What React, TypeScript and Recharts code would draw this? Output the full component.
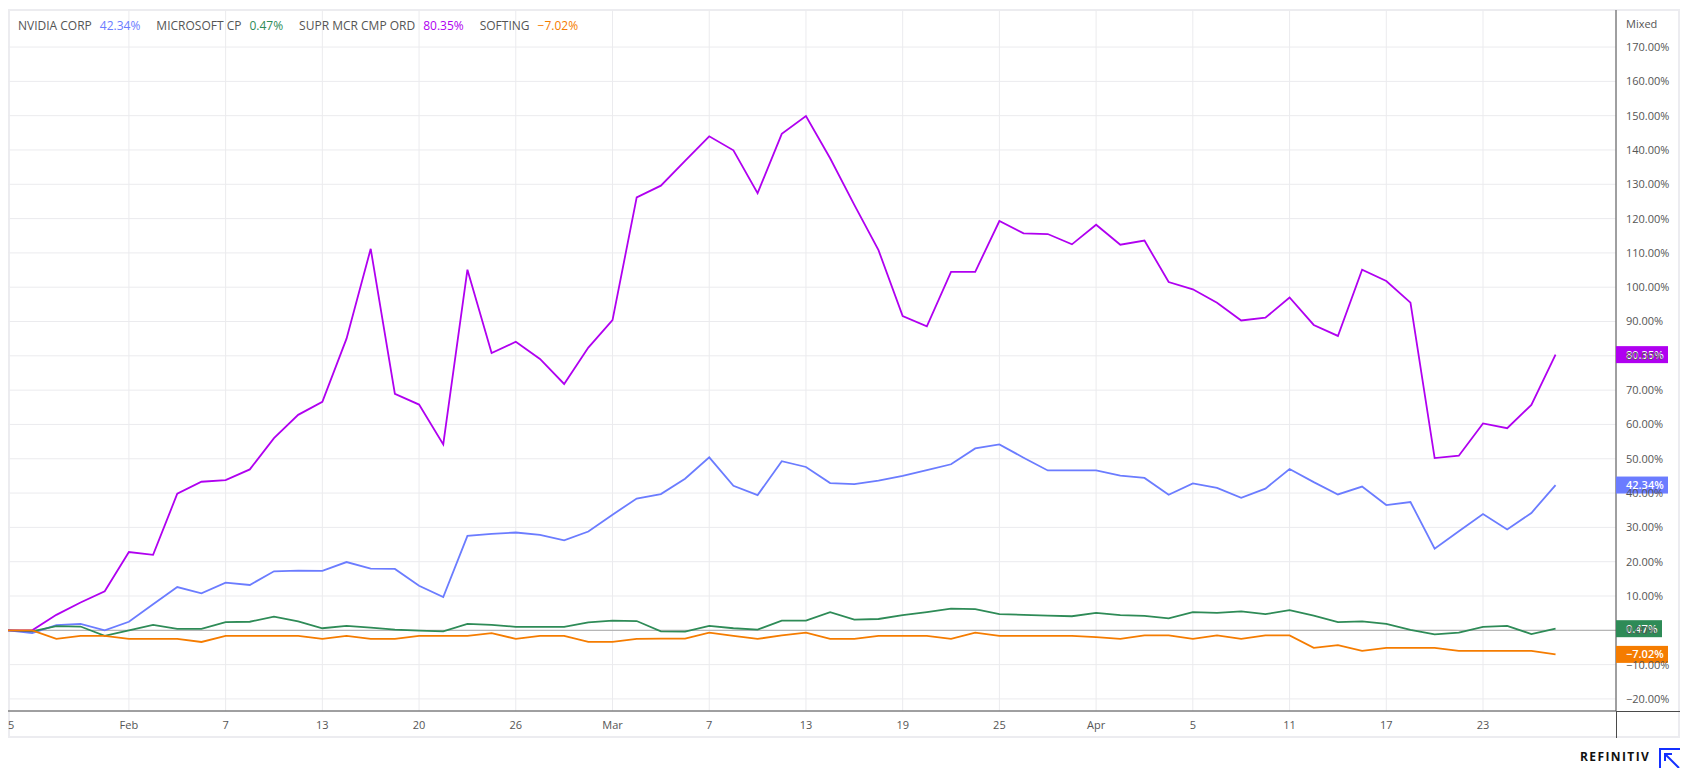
import React from "react";
import { LineChart, Line, XAxis, YAxis, CartesianGrid, ReferenceLine, ReferenceDot } from "recharts";

const seriesNames = ["NVIDIA CORP", "MICROSOFT CP", "SUPR MCR CMP ORD", "SOFTING"];
const seriesKeys = ["nvda", "msft", "smci", "soft"];
const seriesColors = ["#6b7cff", "#2e8b57", "#b000f0", "#f57c00"];

const nvidia = [
  0, -0.8, 1.5, 1.9, 0, 2.5, 7.6, 12.6, 10.8, 13.9, 13.2, 17.2, 17.4, 17.3, 19.9, 18.0, 17.9, 13.0, 9.7, 27.5,
  28.1, 28.5, 27.8, 26.2, 28.8, 33.7, 38.4, 39.7, 44.2, 50.4, 42.1, 39.4, 49.3, 47.6, 42.9, 42.6, 43.6, 45.0, 46.7, 48.4,
  53.0, 54.2, 50.3, 46.6, 46.6, 46.6, 45.1, 44.4, 39.5, 42.8, 41.5, 38.6, 41.3, 47.0, 43.2, 39.6, 41.9, 36.5, 37.4, 23.8,
  28.9, 33.9, 29.4, 34.2, 42.34,
];
const microsoft = [
  0, -0.3, 1.2, 1.1, -1.6, 0, 1.6, 0.4, 0.4, 2.4, 2.5, 4.0, 2.6, 0.6, 1.3, 0.8, 0.2, -0.1, -0.3, 1.9,
  1.6, 1.0, 1.0, 1.0, 2.3, 2.8, 2.7, -0.3, -0.4, 1.3, 0.6, 0.2, 2.8, 2.8, 5.3, 3.1, 3.3, 4.4, 5.3, 6.3,
  6.2, 4.7, 4.5, 4.3, 4.1, 5.1, 4.4, 4.2, 3.5, 5.3, 5.1, 5.5, 4.7, 5.9, 4.3, 2.4, 2.6, 1.9, 0.1, -1.2,
  -0.7, 1.0, 1.3, -1.1, 0.47,
];
const superMicro = [
  0, 0, 4.5, 8.1, 11.4, 22.8, 22.0, 39.8, 43.3, 43.8, 46.9, 56.0, 62.8, 66.6, 85.0, 111.2, 68.9, 65.8, 54.2, 105.1,
  80.8, 84.1, 79.1, 71.8, 82.4, 90.4, 126.2, 129.6, 136.8, 144.0, 139.9, 127.4, 144.7, 149.9, 137.6, 124.0, 110.8, 91.6, 88.6, 104.5,
  104.5, 119.3, 115.7, 115.5, 112.5, 118.2, 112.4, 113.6, 101.5, 99.4, 95.5, 90.3, 91.1, 97.0, 89.0, 85.8, 105.1, 101.8, 95.5, 50.2,
  50.9, 60.3, 58.9, 65.7, 80.35,
];
const softing = [
  0, 0, -2.5, -1.6, -1.6, -2.5, -2.5, -2.5, -3.4, -1.6, -1.6, -1.6, -1.6, -2.5, -1.6, -2.5, -2.5, -1.6, -1.6, -1.6,
  -0.8, -2.5, -1.6, -1.6, -3.4, -3.4, -2.5, -2.4, -2.4, -0.7, -1.6, -2.5, -1.5, -0.7, -2.5, -2.5, -1.6, -1.6, -1.6, -2.5,
  -0.7, -1.6, -1.6, -1.6, -1.6, -2.0, -2.5, -1.5, -1.5, -2.5, -1.5, -2.5, -1.5, -1.5, -5.1, -4.3, -6.0, -5.1, -5.1, -5.1,
  -6.0, -6.0, -6.0, -6.0, -7.02,
];

const tickIndex = [0, 5, 9, 13, 17, 21, 25, 29, 33, 37, 41, 45, 49, 53, 57, 61];
const tickLabels = ["25", "Feb", "7", "13", "20", "26", "Mar", "7", "13", "19", "25", "Apr", "5", "11", "17", "23"];
const yTicks = [-20, -10, 0, 10, 20, 30, 40, 50, 60, 70, 80, 90, 100, 110, 120, 130, 140, 150, 160, 170];

const allSeries = [nvidia, microsoft, superMicro, softing];
const data = nvidia.map((_, i) => ({
  i,
  nvda: nvidia[i],
  msft: microsoft[i],
  smci: superMicro[i],
  soft: softing[i],
}));

const fmt = (v: number) => (v < 0 ? "\u2212" : "") + Math.abs(v).toFixed(2) + "%";
const FONT = '"Open Sans", "Noto Sans", sans-serif';
const X_MAX = 66.5;

const tagShape = (label: string, color: string) => (p: any) => {
  const w = label.length * 6 + 16;
  return (
    <g>
      <rect x={p.cx} y={p.cy - 8.5} width={w} height={17} fill={color} />
      <text x={p.cx + 10} y={p.cy + 4} fill="#ffffff" fontSize={11} fontWeight={600} fontFamily={FONT}>
        {label}
      </text>
    </g>
  );
};

export default function App() {
  return (
    <div style={{ position: "relative", width: 1674, height: 760, fontFamily: FONT }}>
      <div
        style={{
          position: "absolute",
          left: 0,
          top: 1,
          width: 1672,
          height: 729,
          border: "2px solid #ececf0",
          boxSizing: "border-box",
        }}
      />
      <div style={{ position: "absolute", left: 0, top: 2 }}>
        <LineChart width={1672} height={728} data={data} margin={{ top: 0, right: 0, bottom: 0, left: 0 }}>
          <CartesianGrid stroke="#ebebee" strokeWidth={1} />
          <XAxis
            dataKey="i"
            type="number"
            domain={[0, X_MAX]}
            ticks={tickIndex}
            interval={0}
            height={27}
            tickLine={false}
            tickSize={6}
            tickMargin={4}
            axisLine={{ stroke: "#4a4a4a" }}
            tickFormatter={(v: number) => tickLabels[tickIndex.indexOf(v)] ?? ""}
            tick={{ fill: "#555555", fontSize: 11, fontFamily: FONT }}
            allowDataOverflow
          />
          <YAxis
            orientation="right"
            type="number"
            domain={[-23.52, 180.8]}
            ticks={yTicks}
            interval={0}
            width={64}
            tickLine={false}
            tickSize={6}
            tickMargin={4}
            axisLine={{ stroke: "#4a4a4a" }}
            tickFormatter={fmt}
            tick={{ fill: "#555555", fontSize: 11, fontFamily: FONT, textAnchor: "start" }}
            allowDataOverflow
          />
          <ReferenceLine y={0} stroke="#a8a8a8" strokeWidth={1} />
          {seriesKeys.map((k, idx) => (
            <Line
              key={k}
              type="linear"
              dataKey={k}
              stroke={seriesColors[idx]}
              strokeWidth={1.8}
              dot={false}
              activeDot={false}
              isAnimationActive={false}
            />
          ))}
          {seriesKeys.map((k, idx) => {
            const arr = allSeries[idx];
            const last = arr[arr.length - 1];
            return (
              <ReferenceDot
                key={"tag" + k}
                x={X_MAX}
                y={last}
                r={0}
                ifOverflow="visible"
                shape={tagShape(fmt(last), seriesColors[idx])}
              />
            );
          })}
        </LineChart>
      </div>
      {/* axis line extensions */}
      <div style={{ position: "absolute", left: 1608, top: 703, width: 64, height: 1, background: "#4a4a4a" }} />
      <div style={{ position: "absolute", left: 1608, top: 703, width: 1, height: 27, background: "#4a4a4a" }} />
      {/* legend */}
      <div
        style={{
          position: "absolute",
          left: 10,
          top: 10,
          display: "flex",
          alignItems: "center",
          fontSize: 12,
          lineHeight: "16px",
          whiteSpace: "nowrap",
        }}
      >
        {seriesNames.map((n, idx) => {
          const arr = allSeries[idx];
          return (
            <span key={n} style={{ marginRight: 16 }}>
              <span style={{ color: "#555555", marginRight: 8 }}>{n}</span>
              <span style={{ color: seriesColors[idx] }}>{fmt(arr[arr.length - 1])}</span>
            </span>
          );
        })}
      </div>
      <div style={{ position: "absolute", left: 1618, top: 8, fontSize: 11, lineHeight: "15px", color: "#555555" }}>
        Mixed
      </div>
      <div
        style={{
          position: "absolute",
          left: 1572,
          top: 741,
          fontSize: 12,
          lineHeight: "16px",
          fontWeight: 700,
          letterSpacing: 1.4,
          color: "#111111",
        }}
      >
        REFINITIV
      </div>
      <svg style={{ position: "absolute", left: 1649, top: 739 }} width={25} height={21}>
        <path d="M3 21 V2 H23" fill="none" stroke="#1430ff" strokeWidth={2} />
        <path d="M8 7 L22 21" fill="none" stroke="#1430ff" strokeWidth={2} />
        <path d="M8 14 V7 H15" fill="none" stroke="#1430ff" strokeWidth={2} />
      </svg>
    </div>
  );
}
